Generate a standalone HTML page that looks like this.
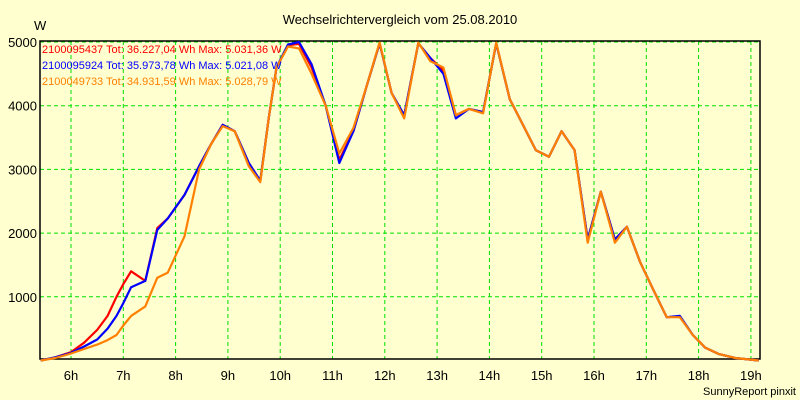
<!DOCTYPE html>
<html><head><meta charset="utf-8"><style>
body{margin:0;background:#ffffd0;}
svg{display:block;font-family:"Liberation Sans",sans-serif;}
</style></head><body>
<svg id="chart" width="800" height="400" viewBox="0 0 800 400">
<rect width="800" height="400" fill="#ffffd0"/>
<text x="400" y="24" text-anchor="middle" font-size="13" fill="#000">Wechselrichtervergleich vom 25.08.2010</text>
<text x="34" y="30" font-size="13" fill="#000">W</text>
<text x="796" y="395" text-anchor="end" font-size="11" fill="#000">SunnyReport pinxit</text>
<g id="grid"></g><g id="axes"></g><g id="series"></g>
<g font-size="11">
<text x="42" y="53" fill="#ff0000">2100095437 Tot: 36.227,04 Wh Max: 5.031,36 W</text>
<text x="42" y="69" fill="#0000ff">2100095924 Tot: 35.973,78 Wh Max: 5.021,08 W</text>
<text x="42" y="85" fill="#ff8000">2100049733 Tot: 34.931,59 Wh Max: 5.028,79 W</text>
</g>
</svg>
<script>
const times=[5.42,5.7,6.0,6.25,6.5,6.7,6.87,7.0,7.15,7.42,7.65,7.85,8.17,8.45,8.68,8.9,9.13,9.4,9.62,9.78,9.93,10.15,10.36,10.6,10.87,11.13,11.4,11.65,11.9,12.13,12.37,12.64,12.87,13.12,13.36,13.61,13.88,14.13,14.39,14.64,14.89,15.14,15.38,15.63,15.88,16.13,16.4,16.63,16.88,17.14,17.39,17.64,17.89,18.13,18.39,18.7,19.15];
const red=[0,50,130,280,480,700,1000,1200,1400,1250,2080,2230,2600,3050,3400,3700,3600,3100,2820,3800,4600,4950,4970,4600,4000,3150,3600,4300,4980,4200,3850,4980,4750,4550,3850,3950,3900,4980,4100,3700,3300,3200,3600,3300,1900,2650,1900,2100,1550,1100,680,690,400,200,100,40,0];
const blue=[0,50,120,220,330,500,700,900,1150,1250,2050,2230,2600,3050,3400,3700,3600,3100,2820,3800,4600,4960,5000,4650,4000,3100,3600,4300,4980,4200,3850,4980,4750,4500,3800,3950,3900,4980,4100,3700,3300,3200,3600,3300,1900,2650,1900,2100,1550,1100,680,700,400,200,100,40,0];
const orange=[0,40,110,180,250,320,400,550,700,850,1300,1380,1950,3000,3400,3680,3600,3050,2800,3800,4600,4930,4900,4500,4000,3250,3650,4300,4990,4200,3800,4990,4700,4600,3850,3950,3880,4990,4100,3700,3300,3200,3600,3300,1850,2650,1850,2100,1550,1100,680,680,400,200,100,40,0];
const yTicks=[1000,2000,3000,4000,5000];
const xTicks=[6,7,8,9,10,11,12,13,14,15,16,17,18,19];
const X0=40,X1=760,Y0=359,Y1=41;
const xs=h=>71+(h-6)*52.3;
const ys=v=>360.5-v*0.0637;
const NS="http://www.w3.org/2000/svg";
function mk(tag,attrs,parent){const e=document.createElementNS(NS,tag);for(const k in attrs)e.setAttribute(k,attrs[k]);parent.appendChild(e);return e;}
const grid=document.getElementById('grid'),axes=document.getElementById('axes'),ser=document.getElementById('series');
xTicks.forEach(h=>{
 const l=mk('line',{x1:xs(h),x2:xs(h),y1:Y1,y2:Y0,stroke:'#00e000','stroke-dasharray':'4,3'},grid);
 
 
 const t=mk('text',{x:xs(h),y:380,'text-anchor':'middle','font-size':13,fill:'#000'},axes);
 t.textContent=h+'h';
 
 
});
yTicks.forEach(v=>{
 const l=mk('line',{x1:X0,x2:X1,y1:ys(v),y2:ys(v),stroke:'#00e000','stroke-dasharray':'4,3'},grid);
 
 
 const t=mk('text',{x:37,y:ys(v)+5,'text-anchor':'end','font-size':13,fill:'#000'},axes);
 t.textContent=v;
 
 
});
const frame=mk('path',{d:`M${X0},${Y1}H${X1}V${Y0}H${X0}Z`,fill:'none',stroke:'#000','stroke-width':1.5},axes);


[[red,'#ff0000','series-red'],[blue,'#0000ff','series-blue'],[orange,'#ff8000','series-orange']].forEach(([d,c,n])=>{
 const p=mk('polyline',{points:d.map((v,i)=>xs(times[i]).toFixed(1)+','+ys(v).toFixed(1)).join(' '),fill:'none',stroke:c,'stroke-width':2.2,'stroke-linejoin':'round'},ser);
 
 
});
</script>
</body></html>
